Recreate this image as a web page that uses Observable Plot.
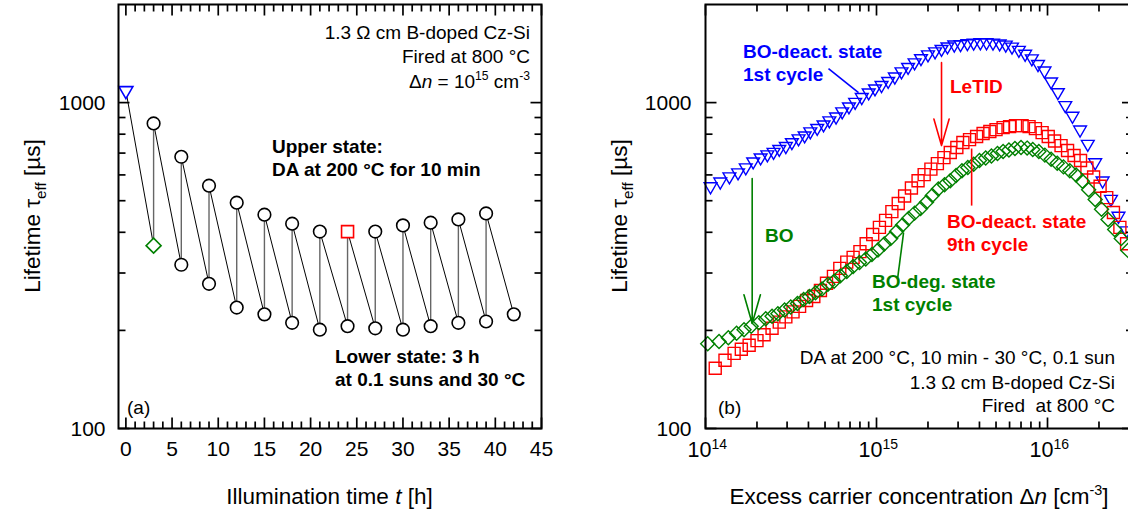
<!DOCTYPE html>
<html><head><meta charset="utf-8">
<script src="https://cdn.jsdelivr.net/npm/d3@7"></script>
<script src="https://cdn.jsdelivr.net/npm/@observablehq/plot@0.6"></script>
<style>
html,body{margin:0;padding:0;background:#fff;overflow:hidden}
#wrap{position:relative;width:1128px;height:515px;overflow:hidden;background:#fff}
#wrap svg{position:absolute;top:0;overflow:visible}
</style></head><body><div id="wrap"></div>
<script>
// ---------- Panel (a): lifetime vs illumination time ----------
const cycleTime = [0, 3, 6, 9, 12, 15, 18, 21, 24, 27, 30, 33, 36, 39, 42];
const upperTau  = [1088, 863, 682, 556, 493, 453, 425, 402, 402, 402, 420, 428, 438, 457, null];
const lowerTau  = [null, 364, 318, 278, 235, 224, 211, 201, 206, 203, 201, 206, 211, 213, 224];
const upperMarker = ["triangle","circle","circle","circle","circle","circle","circle","circle","square","circle","circle","circle","circle","circle",null];
const lowerMarker = [null,"diamond","circle","circle","circle","circle","circle","circle","circle","circle","circle","circle","circle","circle","circle"];

// ---------- Panel (b): lifetime vs excess carrier concentration ----------
const blueDn = [1.07e14,1.22e14,1.38e14,1.55e14,1.72e14,1.9e14,2.1e14,2.3e14,2.5e14,2.7e14,2.95e14,3.2e14,3.5e14,3.8e14,4.1e14,4.5e14,4.9e14,5.3e14,5.8e14,6.3e14,6.9e14,7.5e14,8.2e14,9.0e14,9.8e14,
  1.07e15,1.17e15,1.28e15,1.4e15,1.53e15,1.67e15,1.82e15,2.0e15,2.2e15,2.4e15,2.6e15,2.85e15,3.1e15,3.4e15,3.7e15,4.05e15,4.4e15,4.8e15,5.25e15,5.7e15,6.2e15,6.8e15,7.4e15,8.1e15,8.8e15,9.6e15,
  1.05e16,1.15e16,1.27e16,1.4e16,1.55e16,1.72e16,1.9e16,2.1e16,2.35e16,2.6e16,2.9e16];
const blueTau = [553,572,593,610,632,659,678,693,705,720,735,755,776,792,815,835,856,881,905,939,972,1004,1039,1073,1104,
  1131,1164,1201,1245,1285,1327,1367,1404,1434,1459,1485,1506,1510,1520,1525,1530,1530,1526,1517,1505,1483,1450,1410,1365,1312,1253,
  1160,1075,981,910,826,746,655,576,506,449,405];

const redDn = [1.14e14,1.3e14,1.47e14,1.62e14,1.8e14,2.0e14,2.2e14,2.45e14,2.7e14,2.95e14,3.25e14,3.55e14,3.9e14,4.3e14,4.7e14,5.1e14,5.6e14,6.1e14,6.7e14,7.3e14,8.0e14,8.7e14,9.5e14,
  1.04e15,1.13e15,1.23e15,1.34e15,1.46e15,1.6e15,1.75e15,1.9e15,2.08e15,2.27e15,2.48e15,2.7e15,2.95e15,3.2e15,3.5e15,3.85e15,4.2e15,4.6e15,5.0e15,5.5e15,6.0e15,6.5e15,7.1e15,7.8e15,8.5e15,9.3e15,
  1.01e16,1.1e16,1.2e16,1.31e16,1.43e16,1.56e16,1.7e16,1.86e16,2.03e16,2.22e16,2.43e16,2.65e16,2.9e16];
const redTau = [153,162,170,175,180,186,194,203,212,220,228,237,247,254,265,279,293,310,324,335,349,369,394,
  414,435,463,490,517,547,576,601,625,650,678,703,728,754,770,787,804,815,826,838,844,850,850,844,832,809,
  787,762,738,713,688,664,630,591,554,511,460,414,369];

const greenDn = [1.03e14,1.2e14,1.36e14,1.52e14,1.68e14,1.85e14,2.05e14,2.25e14,2.45e14,2.65e14,2.9e14,3.15e14,3.45e14,3.75e14,4.05e14,4.4e14,4.8e14,5.2e14,5.65e14,6.15e14,6.7e14,7.3e14,7.95e14,8.65e14,9.4e14,
  1.02e15,1.11e15,1.21e15,1.31e15,1.42e15,1.54e15,1.67e15,1.81e15,1.96e15,2.12e15,2.3e15,2.5e15,2.7e15,2.92e15,3.16e15,3.42e15,3.7e15,4.0e15,4.35e15,4.7e15,5.1e15,5.5e15,5.95e15,6.45e15,7.0e15,7.6e15,8.2e15,8.9e15,9.65e15,
  1.05e16,1.14e16,1.24e16,1.35e16,1.47e16,1.6e16,1.74e16,1.9e16,2.07e16,2.26e16,2.47e16,2.7e16,2.95e16];
const greenTau = [182,185,190,196,201,206,211,217,221,225,231,236,242,249,254,261,268,277,283,294,303,314,323,331,342,
  353,368,383,402,421,441,458,473,495,519,543,560,576,597,618,632,647,664,676,686,698,708,715,723,728,725,718,708,690,
  670,652,635,618,600,574,540,504,471,438,408,383,352];

// axis ticks
const timeMajor = [0,5,10,15,20,25,30,35,40,45];
const timeMinor = d3.range(1,45).filter(v => v % 5 !== 0);
const tauMajor = [100, 1000];
const tauMinor = [200,300,400,500,600,700,800,900];
const dnMajor = [1e14, 1e15, 1e16];
const dnMinor = [2e14,3e14,4e14,5e14,6e14,7e14,8e14,9e14,2e15,3e15,4e15,5e15,6e15,7e15,8e15,9e15,2e16,3e16];

// panel (b) arrows / pointers: [x1, y1, x2, y2] in data units
const letidArrow = [2.4e15, 1326, 2.4e15, 738];
const boArrow    = [1.875e14, 585, 1.875e14, 210];
const bluePointer  = [5.24e14, 1271, 7.85e14, 1073];
const redPointer   = [3.6e15, 723, 3.6e15, 483];
const greenPointer = [1.44e15, 399, 1.33e15, 290];

// ---------- helpers ----------
const FONT = '"Liberation Sans", Arial, Helvetica, sans-serif';
const BLUE = "#0000ff", RED = "#ff0000", GREEN = "#008000";
const poly = pts => ({draw(ctx){ ctx.moveTo(pts[0][0], pts[0][1]); for (let k=1;k<pts.length;k++) ctx.lineTo(pts[k][0], pts[k][1]); ctx.closePath(); }});
const seg = (dx, dy) => ({draw(ctx){ ctx.moveTo(0,0); ctx.lineTo(dx,dy); }});
const squareSym = s => poly([[-s,-s],[s,-s],[s,s],[-s,s]]);
const diamondSym = s => poly([[0,-s],[s,0],[0,s],[-s,0]]);
const triDownSym = (w, h) => poly([[-w,-h/3],[w,-h/3],[0,2*h/3]]);
const MAJ = 11, MIN = 7, TW = 1.7;

function tickMarks(xMajor, xMinor, yMajor, yMinor) {
  const o = {stroke: "black", fill: "none", strokeWidth: TW, r: 1};
  return [
    Plot.dot(xMajor, {...o, x: d => d, frameAnchor: "bottom", symbol: seg(0, -MAJ)}),
    Plot.dot(xMinor, {...o, x: d => d, frameAnchor: "bottom", symbol: seg(0, -MIN)}),
    Plot.dot(xMajor, {...o, x: d => d, frameAnchor: "top", symbol: seg(0, MAJ)}),
    Plot.dot(xMinor, {...o, x: d => d, frameAnchor: "top", symbol: seg(0, MIN)}),
    Plot.dot(yMajor, {...o, y: d => d, frameAnchor: "left", symbol: seg(MAJ, 0)}),
    Plot.dot(yMinor, {...o, y: d => d, frameAnchor: "left", symbol: seg(MIN, 0)}),
    Plot.dot(yMajor, {...o, y: d => d, frameAnchor: "right", symbol: seg(-MAJ, 0)}),
    Plot.dot(yMinor, {...o, y: d => d, frameAnchor: "right", symbol: seg(-MIN, 0)})
  ];
}

function addText(svg, offX, x, y, parts, opt) {
  const size = opt.size || 19;
  const t = d3.select(svg).append("text")
    .attr("font-family", FONT).attr("font-size", size)
    .attr("font-weight", opt.weight || "normal")
    .attr("fill", opt.fill || "black")
    .attr("text-anchor", opt.anchor || "start")
    .style("white-space", "pre");
  if (opt.rotate) t.attr("transform", `translate(${x - offX},${y}) rotate(${opt.rotate})`);
  else t.attr("x", x - offX).attr("y", y);
  let shift = 0;
  for (const p of parts) {
    const [s, kind] = typeof p === "string" ? [p, ""] : p;
    const ts = t.append("tspan").text(s);
    let target = 0;
    if (kind === "sup") { target = -0.42 * size; ts.attr("font-size", size * 0.64); }
    if (kind === "sub") { target = 0.28 * size; ts.attr("font-size", size * 0.68); }
    if (kind === "i") ts.attr("font-style", "italic");
    if (target !== shift) { ts.attr("dy", target - shift); shift = target; }
  }
  return t;
}

const wrap = document.getElementById("wrap");

// ---------- Left panel ----------
const idx = cycleTime.map((_, i) => i);
const vertIdx = idx.filter(i => upperTau[i] != null && lowerTau[i] != null);
const diagIdx = idx.filter(i => upperTau[i] != null && i + 1 < cycleTime.length && lowerTau[i + 1] != null);
const upBy = m => idx.filter(i => upperMarker[i] === m);
const loBy = m => idx.filter(i => lowerMarker[i] === m);

const LEFT_OFF = 0;
const left = Plot.plot({
  width: 600, height: 515,
  marginLeft: 118, marginRight: 59, marginTop: 4, marginBottom: 87,
  style: {fontFamily: FONT, background: "transparent", overflow: "visible"},
  x: {domain: [-0.8, 45], axis: null},
  y: {type: "log", domain: [100, 2000], axis: null},
  marks: [
    Plot.link(vertIdx, {x1: i => cycleTime[i], x2: i => cycleTime[i], y1: i => lowerTau[i], y2: i => upperTau[i], stroke: "#666", strokeWidth: 1.4}),
    Plot.link(diagIdx, {x1: i => cycleTime[i], y1: i => upperTau[i], x2: i => cycleTime[i + 1], y2: i => lowerTau[i + 1], stroke: "black", strokeWidth: 1}),
    Plot.dot(upBy("circle"), {x: i => cycleTime[i], y: i => upperTau[i], r: 6.3, stroke: "black", fill: "white", strokeWidth: 1.6}),
    Plot.dot(loBy("circle"), {x: i => cycleTime[i], y: i => lowerTau[i], r: 6.3, stroke: "black", fill: "white", strokeWidth: 1.6}),
    Plot.dot(upBy("triangle"), {x: i => cycleTime[i], y: i => upperTau[i], symbol: triDownSym(7, 12), stroke: BLUE, fill: "white", strokeWidth: 1.6}),
    Plot.dot(loBy("diamond"), {x: i => cycleTime[i], y: i => lowerTau[i], symbol: diamondSym(7.5), stroke: GREEN, fill: "white", strokeWidth: 1.6}),
    Plot.dot(upBy("square"), {x: i => cycleTime[i], y: i => upperTau[i], symbol: squareSym(6), stroke: RED, fill: "white", strokeWidth: 1.6}),
    ...tickMarks(timeMajor, timeMinor, tauMajor, tauMinor),
    Plot.frame({stroke: "black", strokeWidth: 2}),
    Plot.text(timeMajor, {x: d => d, frameAnchor: "bottom", dy: 27, text: d => String(d), fontSize: 21, fill: "black"}),
    Plot.text(tauMajor, {y: d => d, frameAnchor: "left", dx: -13, dy: 1, textAnchor: "end", text: d => String(d), fontSize: 21, fill: "black"})
  ]
});
left.style.left = LEFT_OFF + "px";
wrap.appendChild(left);

addText(left, LEFT_OFF, 530, 39, ["1.3 Ω cm B-doped Cz-Si"], {anchor: "end"});
addText(left, LEFT_OFF, 530, 63, ["Fired at 800 °C"], {anchor: "end"});
addText(left, LEFT_OFF, 530, 88, ["Δ", ["n", "i"], " = 10", ["15", "sup"], " cm", ["-3", "sup"]], {anchor: "end"});
addText(left, LEFT_OFF, 272, 153, ["Upper state:"], {weight: "bold"});
addText(left, LEFT_OFF, 272, 176, ["DA at 200 °C for 10 min"], {weight: "bold"});
addText(left, LEFT_OFF, 335, 363, ["Lower state: 3 h"], {weight: "bold"});
addText(left, LEFT_OFF, 335, 386, ["at 0.1 suns and 30 °C"], {weight: "bold"});
addText(left, LEFT_OFF, 127, 414, ["(a)"], {});
addText(left, LEFT_OFF, 329.5, 504, ["Illumination time ", ["t", "i"], " [h]"], {anchor: "middle", size: 22.5});
addText(left, LEFT_OFF, 40, 216, ["Lifetime τ", ["eff", "sub"], " [µs]"], {anchor: "middle", size: 22.5, rotate: -90});

// ---------- Right panel ----------
const RIGHT_OFF = 600;
const series = [
  {dn: blueDn, tau: blueTau, color: BLUE, sym: triDownSym(6.4, 11)},
  {dn: redDn, tau: redTau, color: RED, sym: squareSym(6)},
  {dn: greenDn, tau: greenTau, color: GREEN, sym: diamondSym(7)}
];
const lk = a => ({x1: a[0], y1: a[1], x2: a[2], y2: a[3]});
const right = Plot.plot({
  width: 540, height: 515,
  marginLeft: 105, marginRight: 7.5, marginTop: 4, marginBottom: 87,
  style: {fontFamily: FONT, background: "transparent", overflow: "visible"},
  x: {type: "log", domain: [1e14, 3.162e16], axis: null},
  y: {type: "log", domain: [100, 2000], axis: null},
  marks: [
    ...series.map(s => Plot.dot(s.dn.map((_, i) => i), {x: i => s.dn[i], y: i => s.tau[i], symbol: s.sym, stroke: s.color, fill: "none", strokeWidth: 1.4})),
    Plot.arrow([letidArrow], {...lk(letidArrow), stroke: RED, strokeWidth: 1.6, headLength: 28, headAngle: 32}),
    Plot.arrow([boArrow], {...lk(boArrow), stroke: GREEN, strokeWidth: 1.6, headLength: 28, headAngle: 32}),
    Plot.link([bluePointer], {...lk(bluePointer), stroke: BLUE, strokeWidth: 1.6}),
    Plot.link([redPointer], {...lk(redPointer), stroke: RED, strokeWidth: 1.6}),
    Plot.link([greenPointer], {...lk(greenPointer), stroke: GREEN, strokeWidth: 1.6}),
    ...tickMarks(dnMajor, dnMinor, tauMajor, tauMinor),
    Plot.frame({stroke: "black", strokeWidth: 2}),
    Plot.text(dnMajor, {x: d => d, frameAnchor: "bottom", dy: 28, dx: 6, textAnchor: "end", text: () => "10", fontSize: 21.5, fill: "black"}),
    Plot.text(dnMajor, {x: d => d, frameAnchor: "bottom", dy: 20, dx: 6, textAnchor: "start", text: d => String(Math.round(Math.log10(d))), fontSize: 14, fill: "black"}),
    Plot.text(tauMajor, {y: d => d, frameAnchor: "left", dx: -14, dy: 1, textAnchor: "end", text: d => String(d), fontSize: 21, fill: "black"})
  ]
});
right.style.left = RIGHT_OFF + "px";
wrap.appendChild(right);

addText(right, RIGHT_OFF, 743, 58, ["BO-deact. state"], {weight: "bold", fill: BLUE});
addText(right, RIGHT_OFF, 743, 81, ["1st cycle"], {weight: "bold", fill: BLUE});
addText(right, RIGHT_OFF, 950, 93, ["LeTID"], {weight: "bold", fill: RED});
addText(right, RIGHT_OFF, 765, 242, ["BO"], {weight: "bold", fill: GREEN});
addText(right, RIGHT_OFF, 947, 228, ["BO-deact. state"], {weight: "bold", fill: RED});
addText(right, RIGHT_OFF, 947, 251, ["9th cycle"], {weight: "bold", fill: RED});
addText(right, RIGHT_OFF, 872, 288, ["BO-deg. state"], {weight: "bold", fill: GREEN});
addText(right, RIGHT_OFF, 872, 311, ["1st cycle"], {weight: "bold", fill: GREEN});
addText(right, RIGHT_OFF, 1115, 364, ["DA at 200 °C, 10 min - 30 °C, 0.1 sun"], {anchor: "end"});
addText(right, RIGHT_OFF, 1115, 389, ["1.3 Ω cm B-doped Cz-Si"], {anchor: "end"});
addText(right, RIGHT_OFF, 1115, 412, ["Fired  at 800 °C"], {anchor: "end"});
addText(right, RIGHT_OFF, 718, 414, ["(b)"], {});
addText(right, RIGHT_OFF, 919, 504, ["Excess carrier concentration Δ", ["n", "i"], " [cm", ["-3", "sup"], "]"], {anchor: "middle", size: 22.5});
addText(right, RIGHT_OFF, 627, 216, ["Lifetime τ", ["eff", "sub"], " [µs]"], {anchor: "middle", size: 22.5, rotate: -90});
</script>
</body></html>
